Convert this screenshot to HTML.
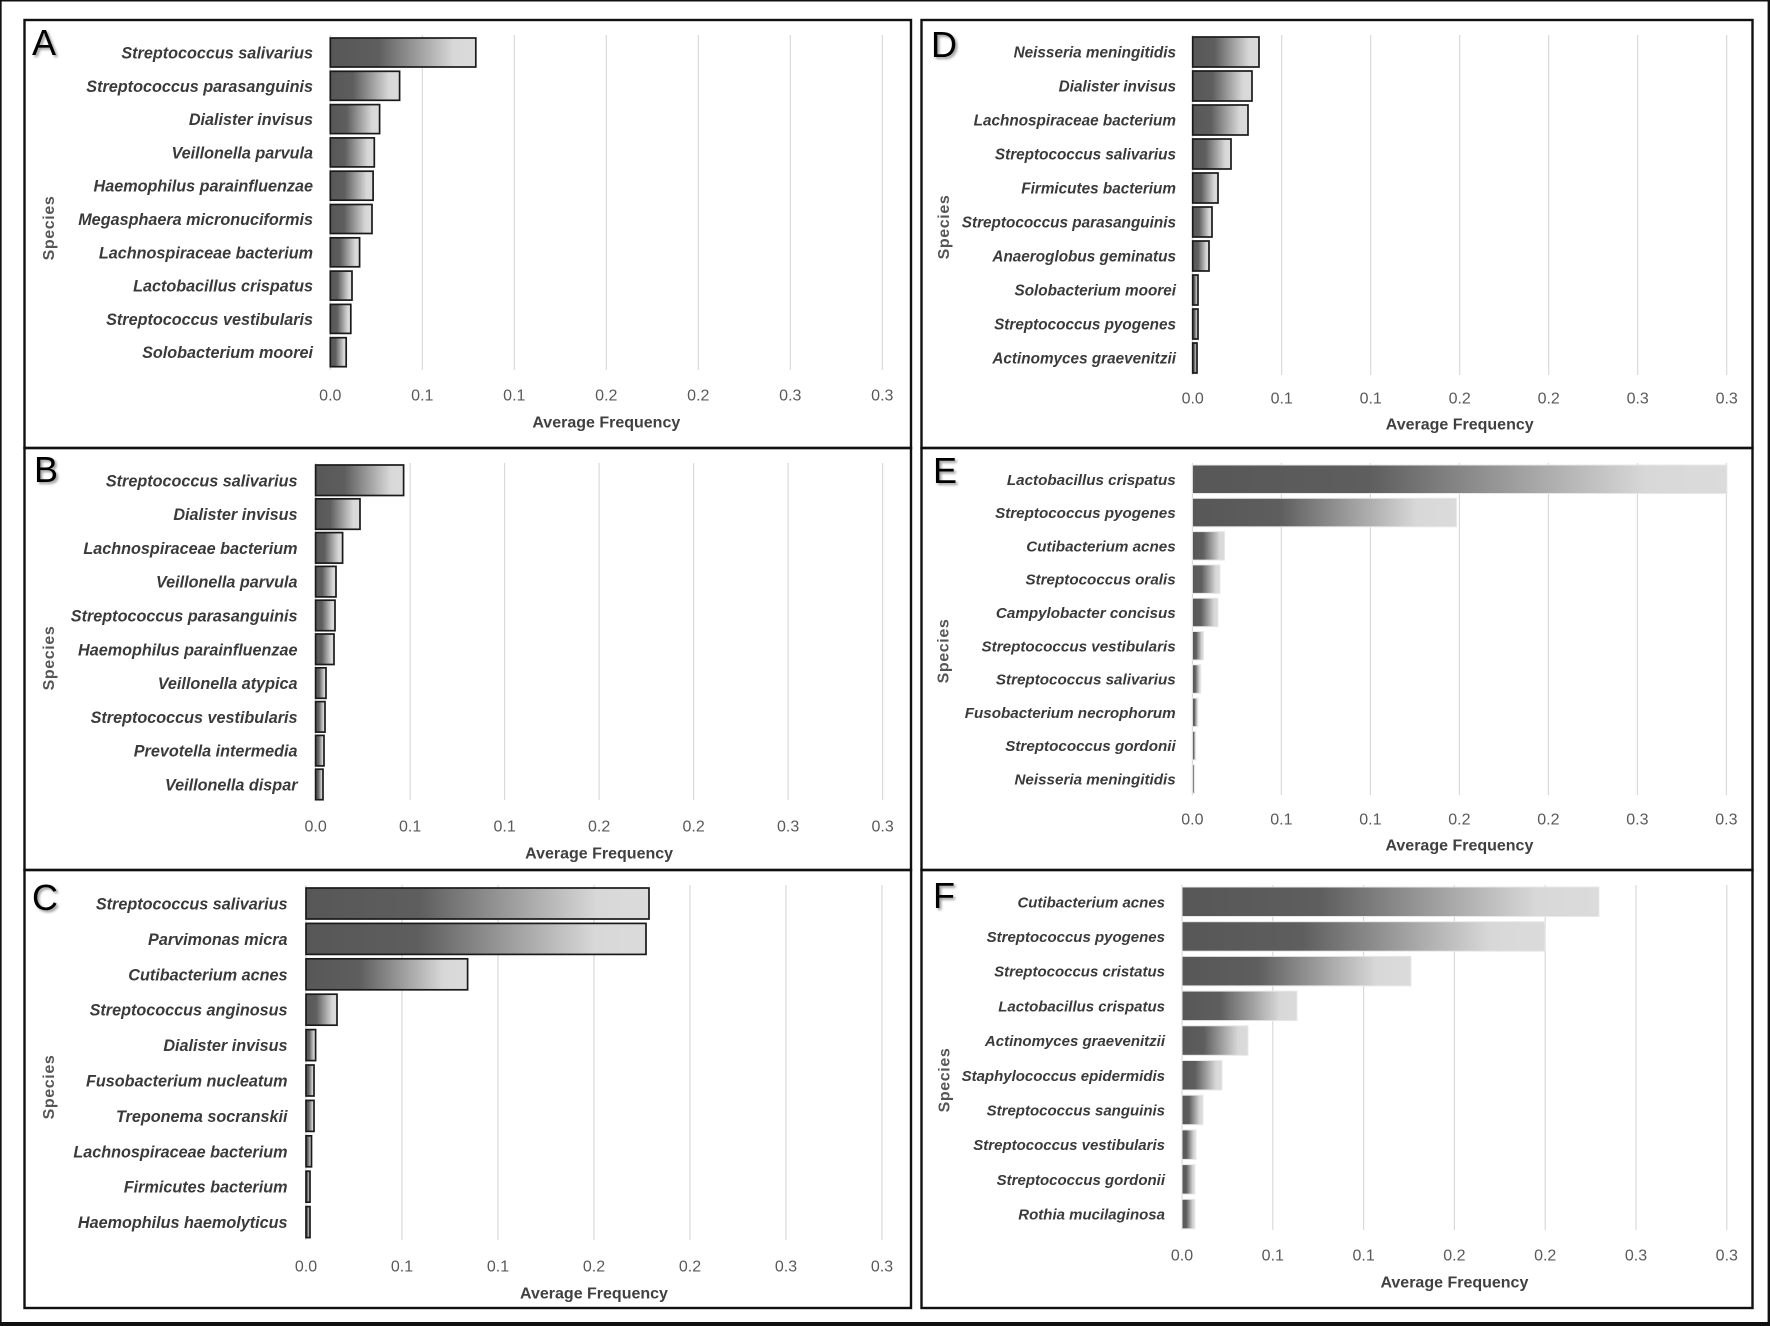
<!DOCTYPE html>
<html>
<head>
<meta charset="utf-8">
<style>
html,body{margin:0;padding:0;background:#fff;}
svg{display:block;}
.lab{font-family:"Liberation Sans",Arial,sans-serif;font-style:italic;font-weight:bold;font-size:16.2px;fill:#3a3a3a;text-anchor:end;}
.lD{font-size:15.3px;}
.lE{font-size:15.2px;}
.lF{font-size:15px;}
.tk{font-family:"Liberation Sans",Arial,sans-serif;font-size:16px;fill:#595959;text-anchor:middle;}
.af{font-family:"Liberation Sans",Arial,sans-serif;font-weight:bold;font-size:16px;fill:#404040;text-anchor:middle;}
.sp{font-family:"Liberation Sans",Arial,sans-serif;font-weight:bold;font-size:16px;letter-spacing:0.6px;fill:#555;text-anchor:middle;}
.pl{font-family:"Liberation Sans",Arial,sans-serif;font-size:36px;fill:#000;}
.pls{font-family:"Liberation Sans",Arial,sans-serif;font-size:36px;fill:#9a9a9a;}
.gl{stroke:#d9d9d9;stroke-width:1.2;}
.bk rect{fill:url(#g);stroke:#1a1a1a;stroke-width:1.7;}
.bl rect{fill:url(#g);stroke:#e8e8e8;stroke-width:1;}
.box{fill:none;stroke:#111;stroke-width:2.4;}
</style>
</head>
<body>
<svg width="1770" height="1326" viewBox="0 0 1770 1326" xmlns="http://www.w3.org/2000/svg">
<defs>
<linearGradient id="g" x1="0" y1="0" x2="1" y2="0">
<stop offset="0" stop-color="#575757"/>
<stop offset="0.33" stop-color="#5e5e5e"/>
<stop offset="0.85" stop-color="#d8d8d8"/>
<stop offset="1" stop-color="#dbdbdb"/>
</linearGradient>
<filter id="bl" x="-20%" y="-20%" width="140%" height="140%"><feGaussianBlur stdDeviation="1.2"/></filter>
</defs>
<rect x="0" y="0" width="1770" height="1326" fill="#fff"/>
<!-- outer border -->
<line x1="0" y1="0.7" x2="1770" y2="0.7" stroke="#111" stroke-width="1.5"/>
<line x1="0.8" y1="0" x2="0.8" y2="1326" stroke="#111" stroke-width="1.7"/>
<line x1="1768.8" y1="0" x2="1768.8" y2="1326" stroke="#111" stroke-width="2.4"/>
<line x1="0" y1="1324" x2="1770" y2="1324" stroke="#111" stroke-width="4"/>

<!-- panel boxes -->
<rect class="box" x="24.5" y="20" width="886.5" height="428"/>
<rect class="box" x="24.5" y="448" width="886.5" height="422"/>
<rect class="box" x="24.5" y="870" width="886.5" height="438"/>
<rect class="box" x="921.5" y="20" width="831" height="428"/>
<rect class="box" x="921.5" y="448" width="831" height="422"/>
<rect class="box" x="921.5" y="870" width="831" height="438"/>

<!-- ===================== A ===================== -->
<text class="pls" x="34" y="57" filter="url(#bl)">A</text>
<text class="pl" x="32" y="55">A</text>
<g>
<line class="gl" x1="330.3" y1="35" x2="330.3" y2="370"/>
<line class="gl" x1="422.3" y1="35" x2="422.3" y2="370"/>
<line class="gl" x1="514.3" y1="35" x2="514.3" y2="370"/>
<line class="gl" x1="606.3" y1="35" x2="606.3" y2="370"/>
<line class="gl" x1="698.3" y1="35" x2="698.3" y2="370"/>
<line class="gl" x1="790.3" y1="35" x2="790.3" y2="370"/>
<line class="gl" x1="882.3" y1="35" x2="882.3" y2="370"/>
</g>
<g class="bk">
<rect x="330.3" y="38" width="145.5" height="29"/>
<rect x="330.3" y="71.3" width="69.3" height="29"/>
<rect x="330.3" y="104.6" width="49.3" height="29"/>
<rect x="330.3" y="137.9" width="44" height="29"/>
<rect x="330.3" y="171.2" width="42.8" height="29"/>
<rect x="330.3" y="204.5" width="41.7" height="29"/>
<rect x="330.3" y="237.8" width="29.3" height="29"/>
<rect x="330.3" y="271.1" width="21.7" height="29"/>
<rect x="330.3" y="304.4" width="20.5" height="29"/>
<rect x="330.3" y="337.7" width="15.9" height="29"/>
</g>
<text class="lab" x="313" y="58.5">Streptococcus salivarius</text>
<text class="lab" x="313" y="91.8">Streptococcus parasanguinis</text>
<text class="lab" x="313" y="125.1">Dialister invisus</text>
<text class="lab" x="313" y="158.4">Veillonella parvula</text>
<text class="lab" x="313" y="191.7">Haemophilus parainfluenzae</text>
<text class="lab" x="313" y="225">Megasphaera micronuciformis</text>
<text class="lab" x="313" y="258.3">Lachnospiraceae bacterium</text>
<text class="lab" x="313" y="291.6">Lactobacillus crispatus</text>
<text class="lab" x="313" y="324.9">Streptococcus vestibularis</text>
<text class="lab" x="313" y="358.2">Solobacterium moorei</text>
<text class="tk" x="330.3" y="400.5">0.0</text>
<text class="tk" x="422.3" y="400.5">0.1</text>
<text class="tk" x="514.3" y="400.5">0.1</text>
<text class="tk" x="606.3" y="400.5">0.2</text>
<text class="tk" x="698.3" y="400.5">0.2</text>
<text class="tk" x="790.3" y="400.5">0.3</text>
<text class="tk" x="882.3" y="400.5">0.3</text>
<text class="af" x="606.3" y="427.5">Average Frequency</text>
<text class="sp" transform="translate(54,228) rotate(-90)" x="0" y="0">Species</text>

<!-- ===================== B ===================== -->
<text class="pls" x="36" y="484" filter="url(#bl)">B</text>
<text class="pl" x="34" y="482">B</text>
<g>
<line class="gl" x1="315.6" y1="463" x2="315.6" y2="800"/>
<line class="gl" x1="410.1" y1="463" x2="410.1" y2="800"/>
<line class="gl" x1="504.6" y1="463" x2="504.6" y2="800"/>
<line class="gl" x1="599.1" y1="463" x2="599.1" y2="800"/>
<line class="gl" x1="693.6" y1="463" x2="693.6" y2="800"/>
<line class="gl" x1="788.1" y1="463" x2="788.1" y2="800"/>
<line class="gl" x1="882.6" y1="463" x2="882.6" y2="800"/>
</g>
<g class="bk">
<rect x="315.6" y="465" width="88" height="30.5"/>
<rect x="315.6" y="498.8" width="44.4" height="30.5"/>
<rect x="315.6" y="532.6" width="27" height="30.5"/>
<rect x="315.6" y="566.4" width="20.4" height="30.5"/>
<rect x="315.6" y="600.2" width="19.4" height="30.5"/>
<rect x="315.6" y="634" width="18.4" height="30.5"/>
<rect x="315.6" y="667.8" width="10.4" height="30.5"/>
<rect x="315.6" y="701.6" width="9.4" height="30.5"/>
<rect x="315.6" y="735.4" width="8.4" height="30.5"/>
<rect x="315.6" y="769.2" width="7.4" height="30.5"/>
</g>
<text class="lab" x="297.5" y="486.3">Streptococcus salivarius</text>
<text class="lab" x="297.5" y="520">Dialister invisus</text>
<text class="lab" x="297.5" y="553.9">Lachnospiraceae bacterium</text>
<text class="lab" x="297.5" y="587.7">Veillonella parvula</text>
<text class="lab" x="297.5" y="621.5">Streptococcus parasanguinis</text>
<text class="lab" x="297.5" y="655.3">Haemophilus parainfluenzae</text>
<text class="lab" x="297.5" y="689.1">Veillonella atypica</text>
<text class="lab" x="297.5" y="722.9">Streptococcus vestibularis</text>
<text class="lab" x="297.5" y="756.7">Prevotella intermedia</text>
<text class="lab" x="297.5" y="790.5">Veillonella dispar</text>
<text class="tk" x="315.6" y="831.5">0.0</text>
<text class="tk" x="410.1" y="831.5">0.1</text>
<text class="tk" x="504.6" y="831.5">0.1</text>
<text class="tk" x="599.1" y="831.5">0.2</text>
<text class="tk" x="693.6" y="831.5">0.2</text>
<text class="tk" x="788.1" y="831.5">0.3</text>
<text class="tk" x="882.6" y="831.5">0.3</text>
<text class="af" x="599.1" y="858.5">Average Frequency</text>
<text class="sp" transform="translate(54,658) rotate(-90)" x="0" y="0">Species</text>

<!-- ===================== C ===================== -->
<text class="pls" x="34" y="912" filter="url(#bl)">C</text>
<text class="pl" x="32" y="910">C</text>
<g>
<line class="gl" x1="306" y1="885" x2="306" y2="1240"/>
<line class="gl" x1="402" y1="885" x2="402" y2="1240"/>
<line class="gl" x1="498" y1="885" x2="498" y2="1240"/>
<line class="gl" x1="594" y1="885" x2="594" y2="1240"/>
<line class="gl" x1="690" y1="885" x2="690" y2="1240"/>
<line class="gl" x1="786" y1="885" x2="786" y2="1240"/>
<line class="gl" x1="882" y1="885" x2="882" y2="1240"/>
</g>
<g class="bk">
<rect x="306" y="888" width="343" height="31"/>
<rect x="306" y="923.4" width="340" height="31"/>
<rect x="306" y="958.8" width="161.6" height="31"/>
<rect x="306" y="994.2" width="31" height="31"/>
<rect x="306" y="1029.6" width="9.6" height="31"/>
<rect x="306" y="1065" width="8" height="31"/>
<rect x="306" y="1100.4" width="8" height="31"/>
<rect x="306" y="1135.8" width="5.5" height="31"/>
<rect x="306" y="1171.2" width="4" height="31"/>
<rect x="306" y="1206.6" width="4" height="31"/>
</g>
<text class="lab" x="287.5" y="909.5">Streptococcus salivarius</text>
<text class="lab" x="287.5" y="944.9">Parvimonas micra</text>
<text class="lab" x="287.5" y="980.3">Cutibacterium acnes</text>
<text class="lab" x="287.5" y="1015.7">Streptococcus anginosus</text>
<text class="lab" x="287.5" y="1051.1">Dialister invisus</text>
<text class="lab" x="287.5" y="1086.5">Fusobacterium nucleatum</text>
<text class="lab" x="287.5" y="1121.9">Treponema socranskii</text>
<text class="lab" x="287.5" y="1157.3">Lachnospiraceae bacterium</text>
<text class="lab" x="287.5" y="1192.7">Firmicutes bacterium</text>
<text class="lab" x="287.5" y="1228.1">Haemophilus haemolyticus</text>
<text class="tk" x="306" y="1271.5">0.0</text>
<text class="tk" x="402" y="1271.5">0.1</text>
<text class="tk" x="498" y="1271.5">0.1</text>
<text class="tk" x="594" y="1271.5">0.2</text>
<text class="tk" x="690" y="1271.5">0.2</text>
<text class="tk" x="786" y="1271.5">0.3</text>
<text class="tk" x="882" y="1271.5">0.3</text>
<text class="af" x="594" y="1298.5">Average Frequency</text>
<text class="sp" transform="translate(54,1087) rotate(-90)" x="0" y="0">Species</text>

<!-- ===================== D ===================== -->
<text class="pls" x="933" y="59" filter="url(#bl)">D</text>
<text class="pl" x="931" y="57">D</text>
<g>
<line class="gl" x1="1192.7" y1="35" x2="1192.7" y2="375"/>
<line class="gl" x1="1281.7" y1="35" x2="1281.7" y2="375"/>
<line class="gl" x1="1370.7" y1="35" x2="1370.7" y2="375"/>
<line class="gl" x1="1459.7" y1="35" x2="1459.7" y2="375"/>
<line class="gl" x1="1548.7" y1="35" x2="1548.7" y2="375"/>
<line class="gl" x1="1637.7" y1="35" x2="1637.7" y2="375"/>
<line class="gl" x1="1726.7" y1="35" x2="1726.7" y2="375"/>
</g>
<g class="bk">
<rect x="1192.7" y="37" width="66.3" height="30"/>
<rect x="1192.7" y="71" width="59.3" height="30"/>
<rect x="1192.7" y="105" width="55.3" height="30"/>
<rect x="1192.7" y="139" width="38.3" height="30"/>
<rect x="1192.7" y="173" width="25.3" height="30"/>
<rect x="1192.7" y="207" width="19.3" height="30"/>
<rect x="1192.7" y="241" width="16.3" height="30"/>
<rect x="1192.7" y="275" width="5.3" height="30"/>
<rect x="1192.7" y="309" width="5.3" height="30"/>
<rect x="1192.7" y="343" width="4.3" height="30"/>
</g>
<text class="lab lD" x="1176" y="57.5">Neisseria meningitidis</text>
<text class="lab lD" x="1176" y="91.5">Dialister invisus</text>
<text class="lab lD" x="1176" y="125.5">Lachnospiraceae bacterium</text>
<text class="lab lD" x="1176" y="159.5">Streptococcus salivarius</text>
<text class="lab lD" x="1176" y="193.5">Firmicutes bacterium</text>
<text class="lab lD" x="1176" y="227.5">Streptococcus parasanguinis</text>
<text class="lab lD" x="1176" y="261.5">Anaeroglobus geminatus</text>
<text class="lab lD" x="1176" y="295.5">Solobacterium moorei</text>
<text class="lab lD" x="1176" y="329.5">Streptococcus pyogenes</text>
<text class="lab lD" x="1176" y="363.5">Actinomyces graevenitzii</text>
<text class="tk" x="1192.7" y="403.5">0.0</text>
<text class="tk" x="1281.7" y="403.5">0.1</text>
<text class="tk" x="1370.7" y="403.5">0.1</text>
<text class="tk" x="1459.7" y="403.5">0.2</text>
<text class="tk" x="1548.7" y="403.5">0.2</text>
<text class="tk" x="1637.7" y="403.5">0.3</text>
<text class="tk" x="1726.7" y="403.5">0.3</text>
<text class="af" x="1459.7" y="429.5">Average Frequency</text>
<text class="sp" transform="translate(949,227) rotate(-90)" x="0" y="0">Species</text>

<!-- ===================== E ===================== -->
<text class="pls" x="935" y="485" filter="url(#bl)">E</text>
<text class="pl" x="933" y="483">E</text>
<g>
<line class="gl" x1="1192.4" y1="463" x2="1192.4" y2="795"/>
<line class="gl" x1="1281.4" y1="463" x2="1281.4" y2="795"/>
<line class="gl" x1="1370.4" y1="463" x2="1370.4" y2="795"/>
<line class="gl" x1="1459.4" y1="463" x2="1459.4" y2="795"/>
<line class="gl" x1="1548.4" y1="463" x2="1548.4" y2="795"/>
<line class="gl" x1="1637.4" y1="463" x2="1637.4" y2="795"/>
<line class="gl" x1="1726.4" y1="463" x2="1726.4" y2="795"/>
</g>
<g class="bl">
<rect x="1192.4" y="465" width="534.6" height="28.5"/>
<rect x="1192.4" y="498.3" width="264.1" height="28.5"/>
<rect x="1192.4" y="531.6" width="32.1" height="28.5"/>
<rect x="1192.4" y="564.9" width="27.6" height="28.5"/>
<rect x="1192.4" y="598.2" width="25.6" height="28.5"/>
<rect x="1192.4" y="631.5" width="11.1" height="28.5"/>
<rect x="1192.4" y="664.8" width="8.3" height="28.5"/>
<rect x="1192.4" y="698.1" width="5.6" height="28.5"/>
<rect x="1192.4" y="731.4" width="3.3" height="28.5"/>
<rect x="1192.4" y="764.7" width="2.2" height="28.5"/>
</g>
<text class="lab lE" x="1175.7" y="484.8">Lactobacillus crispatus</text>
<text class="lab lE" x="1175.7" y="518.1">Streptococcus pyogenes</text>
<text class="lab lE" x="1175.7" y="551.4">Cutibacterium acnes</text>
<text class="lab lE" x="1175.7" y="584.7">Streptococcus oralis</text>
<text class="lab lE" x="1175.7" y="618">Campylobacter concisus</text>
<text class="lab lE" x="1175.7" y="651.3">Streptococcus vestibularis</text>
<text class="lab lE" x="1175.7" y="684.6">Streptococcus salivarius</text>
<text class="lab lE" x="1175.7" y="717.9">Fusobacterium necrophorum</text>
<text class="lab lE" x="1175.7" y="751.2">Streptococcus gordonii</text>
<text class="lab lE" x="1175.7" y="784.5">Neisseria meningitidis</text>
<text class="tk" x="1192.4" y="824.5">0.0</text>
<text class="tk" x="1281.4" y="824.5">0.1</text>
<text class="tk" x="1370.4" y="824.5">0.1</text>
<text class="tk" x="1459.4" y="824.5">0.2</text>
<text class="tk" x="1548.4" y="824.5">0.2</text>
<text class="tk" x="1637.4" y="824.5">0.3</text>
<text class="tk" x="1726.4" y="824.5">0.3</text>
<text class="af" x="1459.4" y="850.5">Average Frequency</text>
<text class="sp" transform="translate(948.5,651) rotate(-90)" x="0" y="0">Species</text>

<!-- ===================== F ===================== -->
<text class="pls" x="935" y="910" filter="url(#bl)">F</text>
<text class="pl" x="933" y="908">F</text>
<g>
<line class="gl" x1="1182" y1="885" x2="1182" y2="1230"/>
<line class="gl" x1="1272.8" y1="885" x2="1272.8" y2="1230"/>
<line class="gl" x1="1363.6" y1="885" x2="1363.6" y2="1230"/>
<line class="gl" x1="1454.4" y1="885" x2="1454.4" y2="1230"/>
<line class="gl" x1="1545.2" y1="885" x2="1545.2" y2="1230"/>
<line class="gl" x1="1636" y1="885" x2="1636" y2="1230"/>
<line class="gl" x1="1726.8" y1="885" x2="1726.8" y2="1230"/>
</g>
<g class="bl">
<rect x="1182" y="887" width="417" height="29.5"/>
<rect x="1182" y="921.7" width="363" height="29.5"/>
<rect x="1182" y="956.4" width="229" height="29.5"/>
<rect x="1182" y="991.1" width="115" height="29.5"/>
<rect x="1182" y="1025.8" width="66" height="29.5"/>
<rect x="1182" y="1060.5" width="40" height="29.5"/>
<rect x="1182" y="1095.2" width="21" height="29.5"/>
<rect x="1182" y="1129.9" width="14" height="29.5"/>
<rect x="1182" y="1164.6" width="13" height="29.5"/>
<rect x="1182" y="1199.3" width="13" height="29.5"/>
</g>
<text class="lab lF" x="1165" y="907.3">Cutibacterium acnes</text>
<text class="lab lF" x="1165" y="942">Streptococcus pyogenes</text>
<text class="lab lF" x="1165" y="976.7">Streptococcus cristatus</text>
<text class="lab lF" x="1165" y="1011.4">Lactobacillus crispatus</text>
<text class="lab lF" x="1165" y="1046.1">Actinomyces graevenitzii</text>
<text class="lab lF" x="1165" y="1080.8">Staphylococcus epidermidis</text>
<text class="lab lF" x="1165" y="1115.5">Streptococcus sanguinis</text>
<text class="lab lF" x="1165" y="1150.2">Streptococcus vestibularis</text>
<text class="lab lF" x="1165" y="1184.9">Streptococcus gordonii</text>
<text class="lab lF" x="1165" y="1219.6">Rothia mucilaginosa</text>
<text class="tk" x="1182" y="1260.5">0.0</text>
<text class="tk" x="1272.8" y="1260.5">0.1</text>
<text class="tk" x="1363.6" y="1260.5">0.1</text>
<text class="tk" x="1454.4" y="1260.5">0.2</text>
<text class="tk" x="1545.2" y="1260.5">0.2</text>
<text class="tk" x="1636" y="1260.5">0.3</text>
<text class="tk" x="1726.8" y="1260.5">0.3</text>
<text class="af" x="1454.4" y="1287.5">Average Frequency</text>
<text class="sp" transform="translate(949.5,1080) rotate(-90)" x="0" y="0">Species</text>
</svg>
</body>
</html>
